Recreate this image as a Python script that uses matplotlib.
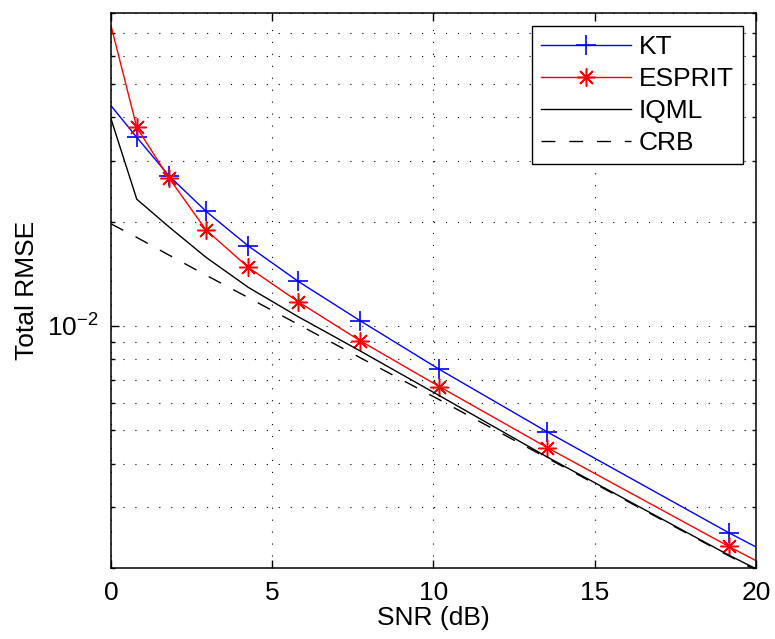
import matplotlib
matplotlib.use("Agg")
import matplotlib.pyplot as plt
from matplotlib.ticker import LogLocator, NullFormatter, FixedLocator

plt.rcParams['font.family'] = ['Liberation Sans', 'DejaVu Sans']
plt.rcParams['font.size'] = 19
plt.rcParams['lines.scale_dashes'] = False

# values
snr = [0, 0.80, 1.80, 2.95, 4.26, 5.81, 7.73, 10.18, 13.53, 19.15, 20]
kt = [0.0432, 0.0350, 0.0271, 0.0214, 0.0170, 0.01343, 0.01034, 0.00749, 0.00494, 0.00253, 0.00230]
esprit = [0.0736, 0.0374, 0.0267, 0.0189, 0.01474, 0.01173, 0.00905, 0.00668, 0.00445, 0.00231, 0.00210]
iqml = [0.0396, 0.0232, 0.0193, 0.01576, 0.01291, 0.01062, 0.00846, 0.00629, 0.00418, 0.00218, 0.00199]
crb = [0.0197, 0.0180, 0.0160, 0.0140, 0.01206, 0.01009, 0.00809, 0.00612, 0.00415, 0.00217, 0.00197]
marks = list(range(1, 10))

fig = plt.figure(figsize=(7.75, 6.39), dpi=100)
ax = fig.add_axes([0.1432, 0.1111, 0.8323, 0.8686])

ax.plot(snr, kt, color='#0000ff', lw=1.0, marker='+', ms=15, mew=1.2,
        markevery=marks, label='KT')
ax.plot(snr, esprit, color='#ff0000', lw=1.0, marker=(8, 2, 0), ms=13, mew=1.1,
        markevery=marks, label='ESPRIT')
ax.plot(snr, iqml, color='black', lw=1.0, label='IQML')
ax.plot(snr, crb, color='black', lw=1.0, linestyle=(0, (10, 10)), label='CRB')

ax.set_yscale('log')
ax.set_xlim(0, 20)
ax.set_ylim(2e-3, 8e-2)
ax.xaxis.set_major_locator(FixedLocator([0, 5, 10, 15, 20]))
ax.yaxis.set_major_locator(LogLocator(base=10))
ax.yaxis.set_minor_locator(LogLocator(base=10, subs=range(2, 10)))
ax.yaxis.set_minor_formatter(NullFormatter())

grid_style = dict(color='black', linestyle=(0, (0.8, 7.8)), linewidth=0.8)
ax.grid(True, which='major', axis='both', **grid_style)
ax.grid(True, which='minor', axis='y', **grid_style)

ax.tick_params(which='both', direction='in', top=True, right=True, width=1.0)
ax.tick_params(which='major', length=6, pad=9)
ax.tick_params(which='minor', length=3)
for s in ax.spines.values():
    s.set_linewidth(1.1)

ax.set_xlabel('SNR (dB)', labelpad=1)
ax.set_ylabel('Total RMSE', labelpad=6)

leg = ax.legend(loc='upper right', fancybox=False, framealpha=1, edgecolor='black',
                borderaxespad=0.5, handlelength=3.4, handletextpad=0.3,
                labelspacing=0.3, borderpad=0.35)
leg.get_frame().set_linewidth(1.0)

fig.savefig('out.png', dpi=100)
